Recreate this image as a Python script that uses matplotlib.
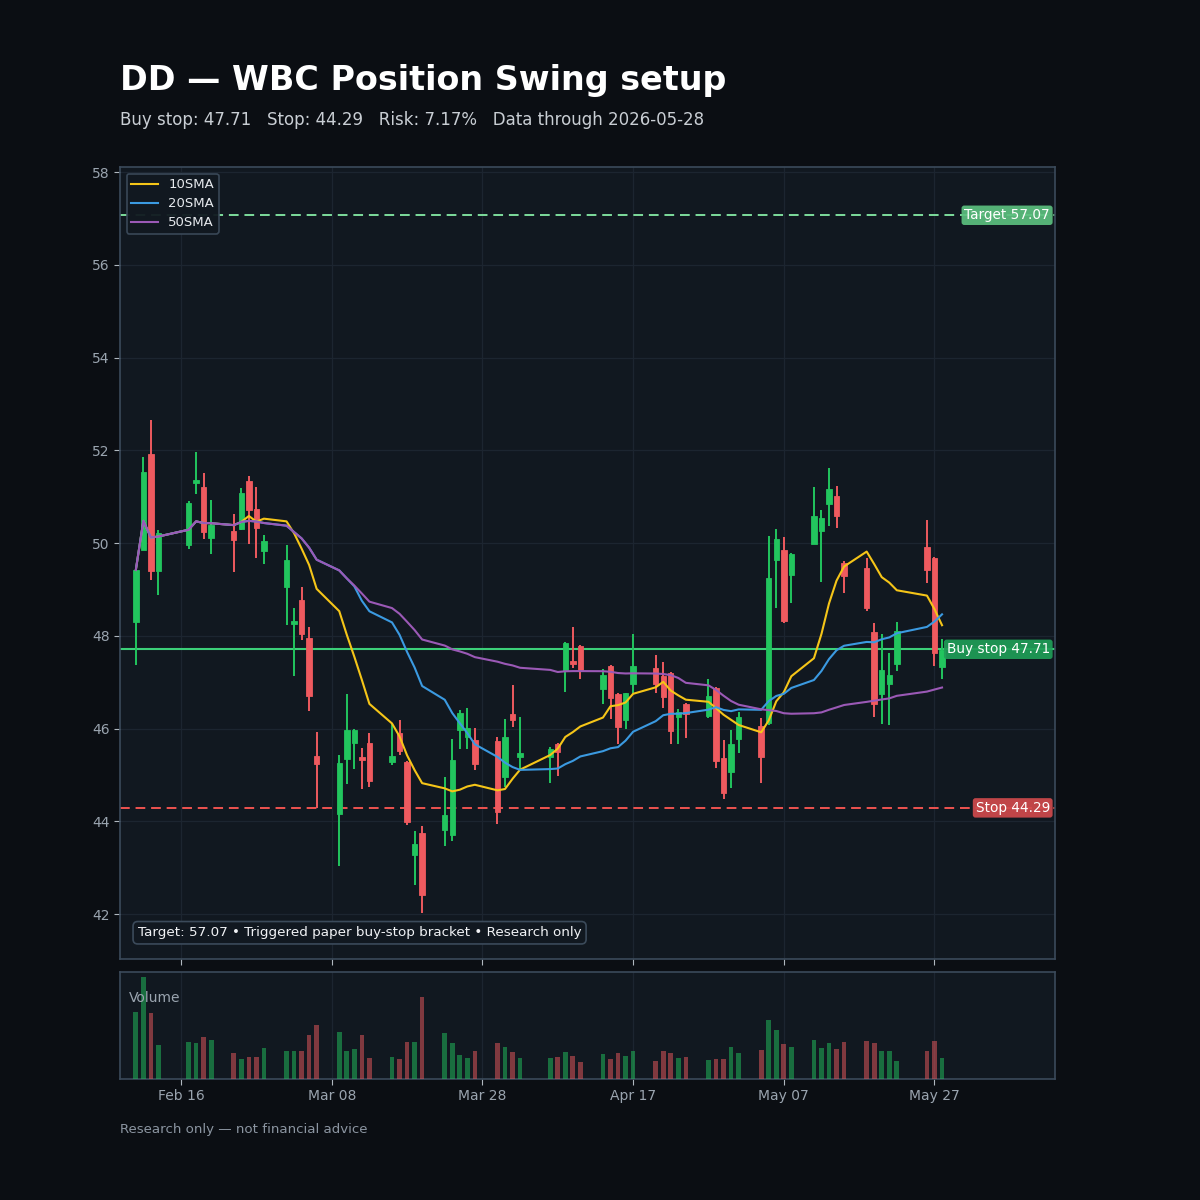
import matplotlib
matplotlib.use("Agg")
import matplotlib.pyplot as plt
import matplotlib.dates as mdates
import matplotlib.transforms as mtransforms
import numpy as np
import pandas as pd

# ---------------- data ----------------
dates = [
    "2026-02-10", "2026-02-11", "2026-02-12", "2026-02-13",
    "2026-02-17", "2026-02-18", "2026-02-19", "2026-02-20",
    "2026-02-23", "2026-02-24", "2026-02-25", "2026-02-26", "2026-02-27",
    "2026-03-02", "2026-03-03", "2026-03-04", "2026-03-05", "2026-03-06",
    "2026-03-09", "2026-03-10", "2026-03-11", "2026-03-12", "2026-03-13",
    "2026-03-16", "2026-03-17", "2026-03-18", "2026-03-19", "2026-03-20",
    "2026-03-23", "2026-03-24", "2026-03-25", "2026-03-26", "2026-03-27",
    "2026-03-30", "2026-03-31", "2026-04-01", "2026-04-02",
    "2026-04-06", "2026-04-07", "2026-04-08", "2026-04-09", "2026-04-10",
    "2026-04-13", "2026-04-14", "2026-04-15", "2026-04-16", "2026-04-17",
    "2026-04-20", "2026-04-21", "2026-04-22", "2026-04-23", "2026-04-24",
    "2026-04-27", "2026-04-28", "2026-04-29", "2026-04-30", "2026-05-01",
    "2026-05-04", "2026-05-05", "2026-05-06", "2026-05-07", "2026-05-08",
    "2026-05-11", "2026-05-12", "2026-05-13", "2026-05-14", "2026-05-15",
    "2026-05-18", "2026-05-19", "2026-05-20", "2026-05-21", "2026-05-22",
    "2026-05-26", "2026-05-27", "2026-05-28",
]
opens = [
    48.30, 49.85, 51.92, 49.40,
    49.96, 51.29, 51.21, 50.12,
    50.26, 50.30, 51.34, 50.73, 49.83,
    49.06, 48.25, 48.77, 47.95, 45.41,
    44.16, 45.34, 45.68, 45.39, 45.68,
    45.29, 45.90, 45.28, 43.27, 43.74,
    43.81, 43.70, 45.98, 45.82, 45.75,
    45.73, 44.96, 46.31, 45.39,
    45.39, 45.66, 47.24, 47.46, 47.78,
    46.85, 47.35, 46.74, 46.18, 46.97,
    47.31, 47.13, 47.20, 46.24, 46.53,
    46.28, 46.87, 45.37, 45.06, 45.77,
    46.06, 46.11, 49.63, 49.86, 49.31,
    49.98, 50.27, 50.84, 51.01, 49.58,
    49.47, 48.09, 46.74, 46.97, 47.40,
    49.91, 49.68, 47.33,
]
highs = [
    49.45, 51.86, 52.65, 50.28,
    50.90, 51.97, 51.52, 50.94,
    50.63, 51.18, 51.44, 51.21, 50.17,
    49.96, 48.59, 49.06, 48.18, 45.93,
    45.43, 46.74, 46.00, 45.59, 45.91,
    46.10, 46.18, 45.30, 43.80, 43.90,
    44.95, 45.77, 46.41, 46.45, 46.02,
    45.82, 46.20, 46.94, 46.25,
    45.60, 45.68, 47.87, 48.20, 47.81,
    47.28, 47.37, 46.76, 46.77, 48.05,
    47.58, 47.44, 47.22, 46.43, 46.55,
    47.07, 46.89, 45.75, 45.98, 46.36,
    46.22, 50.15, 50.30, 50.14, 49.79,
    51.20, 50.71, 51.63, 51.23, 49.61,
    49.68, 48.27, 48.05, 47.62, 48.29,
    50.50, 49.70, 47.94,
]
lows = [
    47.37, 49.85, 49.20, 48.88,
    49.87, 51.05, 50.08, 49.76,
    49.38, 50.28, 49.98, 49.67, 49.54,
    48.23, 47.13, 47.91, 46.38, 44.28,
    43.03, 44.80, 45.12, 44.69, 44.73,
    45.21, 45.43, 43.92, 42.63, 42.03,
    43.47, 43.57, 45.55, 45.55, 45.10,
    43.94, 44.73, 46.04, 45.12,
    44.83, 44.98, 46.78, 47.31, 47.07,
    46.52, 46.20, 45.67, 46.00, 46.77,
    46.77, 46.44, 45.67, 45.66, 45.80,
    46.22, 45.14, 44.48, 44.71, 45.48,
    44.83, 46.08, 48.59, 48.28, 48.70,
    49.97, 49.17, 50.37, 50.32, 48.92,
    48.54, 46.24, 46.10, 46.08, 47.25,
    49.13, 47.35, 47.08,
]
closes = [
    49.42, 51.54, 49.40, 50.21,
    50.87, 51.37, 50.23, 50.39,
    50.06, 51.07, 50.71, 50.32, 50.04,
    49.63, 48.32, 48.05, 46.70, 45.23,
    45.25, 45.98, 45.98, 45.32, 44.87,
    45.41, 45.52, 43.98, 43.51, 42.41,
    44.13, 45.33, 46.34, 46.02, 45.23,
    44.21, 45.81, 46.18, 45.48,
    45.57, 45.50, 47.85, 47.39, 47.24,
    47.15, 46.65, 46.04, 46.76, 47.35,
    46.97, 46.69, 45.95, 46.36, 46.31,
    46.70, 45.30, 44.60, 45.66, 46.24,
    45.39, 49.24, 50.08, 48.32, 49.76,
    50.58, 50.55, 51.16, 50.58, 49.29,
    48.61, 46.54, 47.26, 47.15, 48.11,
    49.43, 47.63, 47.69,
]
volumes = [
    4.04, 6.10, 3.94, 2.06,
    2.22, 2.18, 2.50, 2.34,
    1.54, 1.18, 1.30, 1.34, 1.86,
    1.66, 1.70, 1.66, 2.62, 3.22,
    2.82, 1.66, 1.82, 2.66, 1.26,
    1.34, 1.18, 2.22, 2.22, 4.90,
    2.78, 2.18, 1.42, 1.26, 1.70,
    2.18, 1.94, 1.62, 1.26,
    1.26, 1.34, 1.62, 1.38, 1.02,
    1.50, 1.22, 1.58, 1.38, 1.70,
    1.06, 1.70, 1.54, 1.26, 1.30,
    1.14, 1.18, 1.22, 1.94, 1.58,
    1.74, 3.54, 2.94, 2.10, 1.90,
    2.34, 1.86, 2.14, 1.78, 2.22,
    2.26, 2.18, 1.66, 1.66, 1.06,
    1.70, 2.30, 1.26,
]

ticker = "DD"
buy_stop = 47.71
stop = 44.29
target = 57.07
risk_pct = 7.17
tick_dates = ["2026-02-16", "2026-03-08", "2026-03-28", "2026-04-17", "2026-05-07", "2026-05-27"]
y_ticks = [42, 44, 46, 48, 50, 52, 54, 56, 58]
sma_windows = [10, 20, 50]
sma_labels = ["10SMA", "20SMA", "50SMA"]

# ---------------- styling ----------------
BG = "#0b0e13"
AX_BG = "#111820"
SPINE = "#3b4a5a"
GRID = "#1c2530"
TXT = "#9aa4af"
UP = "#22c55e"
DOWN = "#ef5a5f"
SMA_COLORS = ["#f5c518", "#3b9ae1", "#9b59b6"]

df = pd.DataFrame({"open": opens, "high": highs, "low": lows,
                   "close": closes, "volume": volumes},
                  index=pd.to_datetime(dates))
x = mdates.date2num(df.index.to_pydatetime())
up = df["close"] >= df["open"]

fig = plt.figure(figsize=(12, 12), dpi=100, facecolor=BG)
ax = fig.add_axes([0.1, 0.2008, 0.7792, 0.66])
axv = fig.add_axes([0.1, 0.1008, 0.7792, 0.0892], sharex=ax)

for a in (ax, axv):
    a.set_facecolor(AX_BG)
    for s in a.spines.values():
        s.set_color(SPINE)
        s.set_linewidth(1.2)
    a.tick_params(colors=TXT, labelsize=10, length=4, color="#b0b8c0")
    a.grid(True, color=GRID, linewidth=0.9)
    a.set_axisbelow(True)

# candles
body_w = 0.72
for xi, o, h, l, c, u in zip(x, df["open"], df["high"], df["low"], df["close"], up):
    col = UP if u else DOWN
    ax.vlines(xi, l, h, color=col, linewidth=1.4, zorder=3)
    bottom = min(o, c)
    height = max(abs(c - o), 0.03)
    ax.bar(xi, height, bottom=bottom, width=body_w, color=col,
           edgecolor=col, linewidth=0.6, zorder=4)

# SMAs
for w, lab, colr in zip(sma_windows, sma_labels, SMA_COLORS):
    sma = df["close"].rolling(w, min_periods=1).mean()
    ax.plot(x, sma.values, color=colr, linewidth=1.5, label=lab, zorder=5)

# levels
ax.axhline(target, color="#7ddc9c", linestyle=(0, (5, 3)), linewidth=1.4, zorder=2)
ax.axhline(buy_stop, color="#3ccf78", linestyle="-", linewidth=1.5, zorder=2)
ax.axhline(stop, color="#ef5350", linestyle=(0, (5, 3)), linewidth=1.4, zorder=2)

trans = mtransforms.blended_transform_factory(ax.transAxes, ax.transData)
for val, lab, fc in [(target, f"Target {target:.2f}", "#5cbf7e"),
                     (buy_stop, f"Buy stop {buy_stop:.2f}", "#1f9d57"),
                     (stop, f"Stop {stop:.2f}", "#d04a4c")]:
    ax.text(0.9945, val, lab, transform=trans, ha="right", va="center",
            color="white", fontsize=9.8, zorder=10,
            bbox=dict(boxstyle="round,pad=0.2", fc=fc, ec="none", alpha=0.92))

ax.set_ylim(41.03, 58.11)
ax.set_yticks(y_ticks)
xmin = x[0] - 2.1
xmax = x[-1] + 15.0
ax.set_xlim(xmin, xmax)
ticks = mdates.date2num(pd.to_datetime(tick_dates).to_pydatetime())
ax.set_xticks(ticks)
axv.xaxis.set_major_formatter(mdates.DateFormatter("%b %d"))
plt.setp(ax.get_xticklabels(), visible=False)

leg = ax.legend(loc="upper left", fontsize=9.5, facecolor=AX_BG, edgecolor=SPINE,
                labelcolor="#e6e9ed", framealpha=0.95, borderpad=0.35,
                handlelength=2.0, handletextpad=0.8, labelspacing=0.45)
leg.get_frame().set_linewidth(1.2)

ax.text(0.019, 0.025, f"Target: {target:.2f} \u2022 Triggered paper buy-stop bracket \u2022 Research only",
        transform=ax.transAxes, ha="left", va="bottom", color="#f0f2f5", fontsize=9.7,
        bbox=dict(boxstyle="round,pad=0.35", fc="#111820", ec="#3b4a5a", lw=1.2), zorder=10)

# volume
vcols = [UP if u else DOWN for u in up]
axv.bar(x, df["volume"], width=0.62, color=vcols, alpha=0.5, zorder=3)
axv.set_ylim(0, df["volume"].max() * 1.05)
axv.set_yticks([])
axv.grid(True, axis="x", color=GRID, linewidth=0.9)
axv.grid(False, axis="y")
axv.text(0.01, 0.76, "Volume", transform=axv.transAxes, color=TXT, fontsize=10,
         ha="left", va="center")

# titles
fig.text(0.1, 0.933, f"{ticker} \u2014 WBC Position Swing setup", color="white",
         fontsize=24, fontweight="bold", ha="left", va="center")
fig.text(0.1, 0.9, f"Buy stop: {buy_stop:.2f}   Stop: {stop:.2f}   Risk: {risk_pct:.2f}%   Data through {dates[-1]}",
         color="#c9ced4", fontsize=12, ha="left", va="center")
fig.text(0.1, 0.059, "Research only \u2014 not financial advice", color="#8b95a1",
         fontsize=9.6, ha="left", va="center")

fig.savefig("out.png", dpi=100, facecolor=BG)
